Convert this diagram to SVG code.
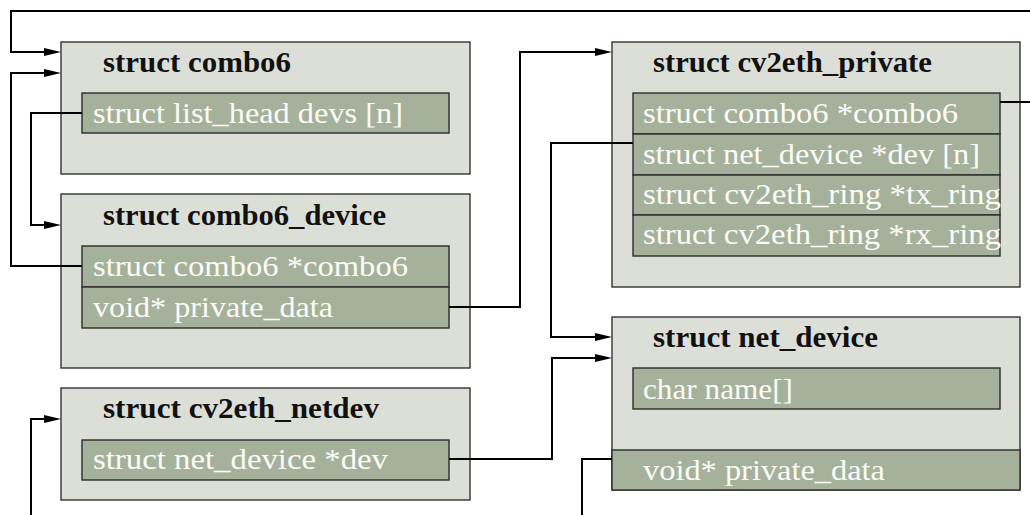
<svg xmlns="http://www.w3.org/2000/svg" width="1030" height="515" viewBox="0 0 1030 515">
  <style>
    .box { fill: #dcdfd8; stroke: #333333; stroke-width: 1.4; }
    .field { fill: #a6b19c; stroke: #2c2c2c; stroke-width: 1.4; }
    .title { font-family: "Liberation Serif", "Times New Roman", serif; font-weight: bold; font-size: 29px; fill: #111111; }
    .ftext { font-family: "Liberation Serif", "Times New Roman", serif; font-size: 29px; fill: #fbfbf7; }
    .wire { fill: none; stroke: #000000; stroke-width: 2; }
  </style>
  <defs>
    <marker id="arrow" markerUnits="userSpaceOnUse" markerWidth="18" markerHeight="9" refX="11" refY="4" orient="auto">
      <path d="M0,0 L17,4 L0,8 z" fill="#000000"/>
    </marker>
  </defs>

  <rect width="1030" height="515" fill="#ffffff"/>

  <!-- struct combo6 -->
  <g id="combo6">
    <rect class="box" x="61" y="42" width="409" height="132"/>
    <text class="title" x="103" y="72" textLength="188" lengthAdjust="spacingAndGlyphs">struct combo6</text>
    <rect class="field" x="82" y="93" width="367" height="40"/>
    <text class="ftext" x="93" y="123" textLength="310" lengthAdjust="spacingAndGlyphs">struct list_head devs [n]</text>
  </g>

  <!-- struct combo6_device -->
  <g id="combo6_device">
    <rect class="box" x="61" y="194" width="409" height="174"/>
    <text class="title" x="103" y="225" textLength="283" lengthAdjust="spacingAndGlyphs">struct combo6_device</text>
    <rect class="field" x="82" y="246" width="367" height="41"/>
    <text class="ftext" x="93" y="276" textLength="315" lengthAdjust="spacingAndGlyphs">struct combo6 *combo6</text>
    <rect class="field" x="82" y="287" width="367" height="41"/>
    <text class="ftext" x="93" y="317" textLength="240" lengthAdjust="spacingAndGlyphs">void* private_data</text>
  </g>

  <!-- struct cv2eth_netdev -->
  <g id="cv2eth_netdev">
    <rect class="box" x="61" y="388" width="409" height="112"/>
    <text class="title" x="103" y="418" textLength="276" lengthAdjust="spacingAndGlyphs">struct cv2eth_netdev</text>
    <rect class="field" x="82" y="440" width="367" height="40"/>
    <text class="ftext" x="93" y="469" textLength="295" lengthAdjust="spacingAndGlyphs">struct net_device *dev</text>
  </g>

  <!-- struct cv2eth_private -->
  <g id="cv2eth_private">
    <rect class="box" x="612" y="42" width="408" height="245"/>
    <text class="title" x="653" y="72" textLength="279" lengthAdjust="spacingAndGlyphs">struct cv2eth_private</text>
    <rect class="field" x="633" y="93" width="367" height="41"/>
    <text class="ftext" x="643" y="123" textLength="315" lengthAdjust="spacingAndGlyphs">struct combo6 *combo6</text>
    <rect class="field" x="633" y="134" width="367" height="41"/>
    <text class="ftext" x="643" y="164" textLength="337" lengthAdjust="spacingAndGlyphs">struct net_device *dev [n]</text>
    <rect class="field" x="633" y="175" width="367" height="40"/>
    <text class="ftext" x="643" y="204" textLength="358" lengthAdjust="spacingAndGlyphs">struct cv2eth_ring *tx_ring</text>
    <rect class="field" x="633" y="215" width="367" height="41"/>
    <text class="ftext" x="643" y="244" textLength="358" lengthAdjust="spacingAndGlyphs">struct cv2eth_ring *rx_ring</text>
  </g>

  <!-- struct net_device -->
  <g id="net_device">
    <rect class="box" x="612" y="317" width="408" height="173"/>
    <text class="title" x="653" y="347" textLength="225" lengthAdjust="spacingAndGlyphs">struct net_device</text>
    <rect class="field" x="633" y="368" width="367" height="41"/>
    <text class="ftext" x="643" y="399" textLength="150" lengthAdjust="spacingAndGlyphs">char name[]</text>
    <rect class="field" x="612" y="450" width="408" height="40"/>
    <text class="ftext" x="643" y="480" textLength="242" lengthAdjust="spacingAndGlyphs">void* private_data</text>
  </g>

  <!-- pointer connectors -->
  <g id="connectors">
    <!-- cv2eth_private.combo6 -> combo6 (routed over the top) -->
    <path class="wire" d="M1000,102 H1040 V11 H11 V52 H55" marker-end="url(#arrow)"/>
    <!-- combo6_device.combo6 -> combo6 -->
    <path class="wire" d="M82,266 H11 V73 H55" marker-end="url(#arrow)"/>
    <!-- combo6.devs -> combo6_device -->
    <path class="wire" d="M82,113 H31 V225 H55" marker-end="url(#arrow)"/>
    <!-- combo6_device.private_data -> cv2eth_private -->
    <path class="wire" d="M449,307 H520 V52 H606" marker-end="url(#arrow)"/>
    <!-- cv2eth_private.dev[n] -> net_device -->
    <path class="wire" d="M633,143 H551 V337 H606" marker-end="url(#arrow)"/>
    <!-- cv2eth_netdev.dev -> net_device -->
    <path class="wire" d="M449,459 H552 V358 H606" marker-end="url(#arrow)"/>
    <!-- net_device.private_data -> cv2eth_netdev (routed below) -->
    <path class="wire" d="M612,459 H582 V530 H31 V419 H55" marker-end="url(#arrow)"/>
  </g>
</svg>
